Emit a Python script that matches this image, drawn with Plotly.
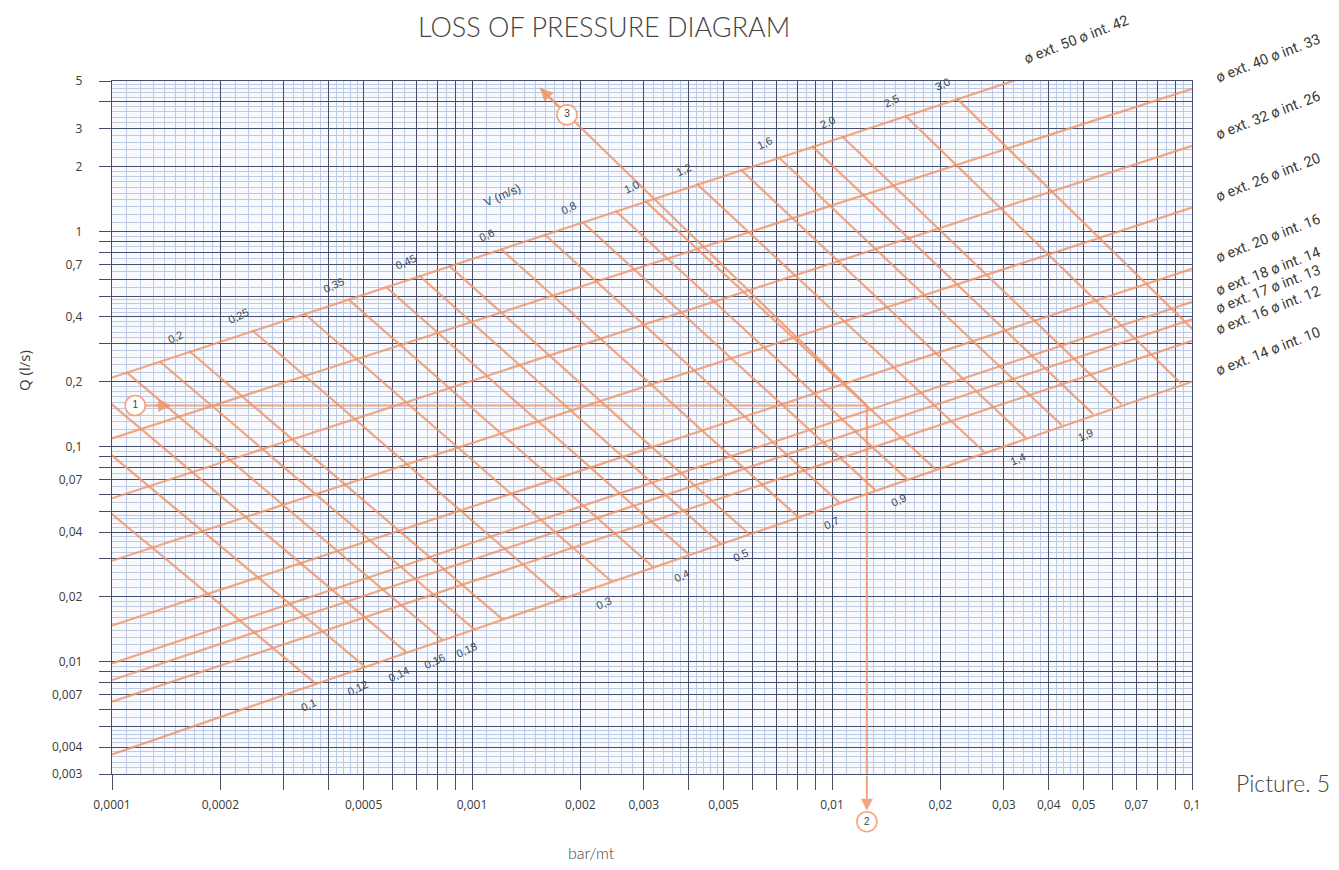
import numpy as np
import plotly.graph_objects as go

# ---------------- data ----------------
x_label_vals = [0.0001, 0.0002, 0.0005, 0.001, 0.002, 0.003, 0.005, 0.01, 0.02, 0.03, 0.04, 0.05, 0.07, 0.1]
x_label_text = ["0,0001", "0,0002", "0,0005", "0,001", "0,002", "0,003", "0,005", "0,01", "0,02",
                "0,03", "0,04", "0,05", "0,07", "0,1"]
y_label_vals = [0.003, 0.004, 0.007, 0.01, 0.02, 0.04, 0.07, 0.1, 0.2, 0.4, 0.7, 1, 2, 3, 5]
y_label_text = ["0,003", "0,004", "0,007", "0,01", "0,02", "0,04", "0,07", "0,1", "0,2", "0,4",
                "0,7", "1", "2", "3", "5"]

# pipe lines (Q vs pressure loss) : start at J=0.0001, end at J=0.1
pipe_names = ["ø ext. 50 ø int. 42", "ø ext. 40 ø int. 33", "ø ext. 32 ø int. 26",
              "ø ext. 26 ø int. 20", "ø ext. 20 ø int. 16", "ø ext. 18 ø int. 14",
              "ø ext. 17 ø int. 13", "ø ext. 16 ø int. 12", "ø ext. 14 ø int. 10"]
pipe_J_start = [0.0001, 0.0001, 0.0001, 0.0001, 0.0001, 0.0001, 0.0001, 0.0001, 0.0001]
pipe_Q_start = [0.209, 0.109, 0.0574, 0.0294, 0.0147, 0.0098, 0.0082, 0.0065, 0.0037]
pipe_J_end = [0.1, 0.1, 0.1, 0.1, 0.1, 0.1, 0.1, 0.1, 0.1]
pipe_Q_end = [9.4, 4.6, 2.5, 1.29, 0.67, 0.47, 0.39, 0.31, 0.20]

# velocity lines : from the ø42 line (top) to the ø10 line (bottom)
vel_text = ["0,1", "0,12", "0,14", "0,16", "0,18", "0,2", "0,25", "0,3", "0,35", "0,4", "0,45", "0,5",
            "0,6", "0,7", "0,8", "0,9", "1,0", "1,2", "1,4", "1,6", "1,9", "2,0", "2,5", "3,0"]
vel_J_top = [4.67e-5, 6.49e-5, 8.59e-5, 1.094e-4, 1.355e-4, 1.641e-4, 2.455e-4, 3.42e-4, 4.52e-4,
             5.75e-4, 7.13e-4, 8.63e-4, 1.20e-3, 1.589e-3, 2.023e-3, 2.503e-3, 3.027e-3, 4.217e-3,
             5.577e-3, 7.096e-3, 8.80e-3, 1.066e-2, 1.596e-2, 2.221e-2]
vel_Q_top = [0.14, 0.166, 0.194, 0.222, 0.249, 0.277, 0.346, 0.415, 0.485, 0.554, 0.623, 0.693,
             0.831, 0.97, 1.108, 1.247, 1.385, 1.662, 1.94, 2.216, 2.49, 2.77, 3.46, 4.15]
vel_J_bot = [3.694e-4, 5.06e-4, 6.59e-4, 8.29e-4, 1.014e-3, 1.216e-3, 1.782e-3, 2.443e-3, 3.184e-3,
             4.009e-3, 4.90e-3, 5.875e-3, 8.04e-3, 1.047e-2, 1.318e-2, 1.614e-2, 1.936e-2, 2.649e-2,
             3.451e-2, 4.345e-2, 5.316e-2, 6.368e-2, 9.33e-2, 0.128]
vel_Q_bot = [0.00785, 0.00942, 0.0110, 0.01256, 0.01413, 0.0157, 0.0196, 0.02355, 0.0275, 0.0314,
             0.0353, 0.03925, 0.0471, 0.05495, 0.0628, 0.07065, 0.0785, 0.0942, 0.1099, 0.1256,
             0.1413, 0.157, 0.196, 0.2355]
vel_label_end = ["bot", "bot", "bot", "bot", "bot", "top", "top", "bot", "top", "bot", "top", "bot",
                 "top", "bot", "top", "bot", "top", "top", "bot", "top", "bot", "top", "top", "top"]

# worked example (1 -> 2, 3)
ex_point_J = 0.0125
ex_point_Q = 0.155
ex_mark1 = (1.16e-4, 0.155)
ex_mark2 = (0.0125, 0.0018)
ex_mark3 = (1.836e-3, 3.48)
ex_tip3 = (1.545e-3, 4.64)

# ---------------- style ----------------
DARK = "#46506c"
LIGHT = "#bccae4"
ORANGE = "rgba(240,148,102,0.82)"
TXT = "#3a3a3a"
XMIN, XMAX = 1e-4, 0.1
YMIN, YMAX = 0.003, 5


def decade_lines(lo, hi):
    major, minor = [], []
    for e in range(int(np.floor(np.log10(lo))) - 1, int(np.ceil(np.log10(hi))) + 1):
        base = 10.0 ** e
        for k in range(1, 10):
            major.append(k * base)
        fine = [1 + 0.1 * i for i in range(1, 10)] + [2 + 0.2 * i for i in range(1, 15) if i % 5 != 0] \
            + [5.5, 6.5, 7.5, 8.5, 9.5]
        minor += [f * base for f in fine]
    tol = 1e-9
    major = [round(v, 12) for v in major if lo * (1 - tol) <= v <= hi * (1 + tol)]
    minor = [round(v, 12) for v in minor if lo * (1 - tol) <= v <= hi * (1 + tol)]
    return major, minor


def texts_for(major, lab_vals, lab_text):
    out = []
    for v in major:
        t = ""
        for lv, lt in zip(lab_vals, lab_text):
            if abs(np.log10(v) - np.log10(lv)) < 1e-6:
                t = lt
        out.append(t)
    return out


x_major, x_minor = decade_lines(XMIN, XMAX)
y_major, y_minor = decade_lines(YMIN, YMAX)
lx = np.log10


def paper_x(j):
    return (lx(j) - lx(XMIN)) / (lx(XMAX) - lx(XMIN))


def paper_y(q):
    return (lx(q) - lx(YMIN)) / (lx(YMAX) - lx(YMIN))


fig = go.Figure()

# pipe lines
px_, py_ = [], []
for a, b, c, d in zip(pipe_J_start, pipe_Q_start, pipe_J_end, pipe_Q_end):
    px_ += [a, c, None]
    py_ += [b, d, None]
fig.add_trace(go.Scatter(x=px_, y=py_, mode="lines", line=dict(color=ORANGE, width=2.2),
                         hoverinfo="skip"))

# velocity lines
vx, vy = [], []
for a, b, c, d in zip(vel_J_top, vel_Q_top, vel_J_bot, vel_Q_bot):
    vx += [a, c, None]
    vy += [b, d, None]
fig.add_trace(go.Scatter(x=vx, y=vy, mode="lines", line=dict(color=ORANGE, width=2.2),
                         hoverinfo="skip"))

# worked example lines
fig.add_trace(go.Scatter(
    x=[ex_mark1[0], ex_point_J, None, ex_point_J, ex_point_J, None, ex_point_J, ex_tip3[0]],
    y=[ex_mark1[1], ex_point_Q, None, ex_point_Q, YMIN * 0.9, None, ex_point_Q, ex_tip3[1]],
    mode="lines", line=dict(color=ORANGE, width=2.2), hoverinfo="skip"))

# circled markers 1 and 3 (inside the plot)
fig.add_trace(go.Scatter(
    x=[ex_mark1[0], ex_mark3[0]], y=[ex_mark1[1], ex_mark3[1]],
    mode="markers+text", text=["1", "3"], textposition="middle center",
    textfont=dict(size=10, color="#444", family="Liberation Sans"),
    marker=dict(size=20, color="white", line=dict(color=ORANGE, width=1.6)),
    cliponaxis=False, hoverinfo="skip"))

# circled marker 2 (below the plot) as a shape
m2x, m2y = paper_x(ex_mark2[0]), paper_y(ex_mark2[1])
fig.add_shape(type="circle", xref="paper", yref="paper", xsizemode="pixel", ysizemode="pixel",
              xanchor=m2x, yanchor=m2y, x0=-10, x1=10, y0=-10, y1=10,
              line=dict(color=ORANGE, width=1.6), fillcolor="white")

annotations = []
annotations.append(dict(x=m2x, y=m2y, xref="paper", yref="paper", text="2", showarrow=False,
                        xanchor="center", yanchor="middle",
                        font=dict(size=10, color="#444", family="Liberation Sans")))
# arrow heads / segments of the example
annotations.append(dict(x=lx(1.46e-4), y=lx(ex_mark1[1]), ax=lx(1.30e-4), ay=lx(ex_mark1[1]),
                        xref="x", yref="y", axref="x", ayref="y", text="", showarrow=True,
                        arrowhead=2, arrowsize=1.3, arrowwidth=2, arrowcolor=ORANGE))
annotations.append(dict(x=lx(ex_mark2[0]), y=lx(ex_mark2[1]), ax=lx(ex_point_J), ay=lx(YMIN),
                        xref="x", yref="y", axref="x", ayref="y", text="", showarrow=True,
                        arrowhead=2, arrowsize=1.2, arrowwidth=2, arrowcolor=ORANGE, standoff=11))
annotations.append(dict(x=lx(ex_tip3[0]), y=lx(ex_tip3[1]), ax=lx(1.75e-3), ay=lx(3.75),
                        xref="x", yref="y", axref="x", ayref="y", text="", showarrow=True,
                        arrowhead=2, arrowsize=1.3, arrowwidth=2, arrowcolor=ORANGE))

# pipe labels, placed just beyond each line's right end
for i, name in enumerate(pipe_names):
    j0, q0, j1, q1 = pipe_J_start[i], pipe_Q_start[i], pipe_J_end[i], pipe_Q_end[i]
    if q1 > YMAX:
        t = (lx(YMAX) - lx(q0)) / (lx(q1) - lx(q0))
        ex_, ey_ = lx(j0) + t * (lx(j1) - lx(j0)), lx(YMAX)
        xs, ys = 64, 42
    else:
        ex_, ey_ = lx(j1), lx(q1)
        xs, ys = 76, 30
    annotations.append(dict(x=ex_, y=ey_, xref="x", yref="y", text=name, showarrow=False,
                            xshift=xs, yshift=ys, textangle=-21,
                            font=dict(family="Roboto", size=14.5, color=TXT)))

# velocity labels
for i, t in enumerate(vel_text):
    if vel_label_end[i] == "top":
        x, y, xs, ys = lx(vel_J_top[i]), lx(vel_Q_top[i]), -14, 14
    else:
        x, y, xs, ys = lx(vel_J_bot[i]), lx(vel_Q_bot[i]), -8, -21
    annotations.append(dict(x=x, y=y, xref="x", yref="y", text=t, showarrow=False,
                            xshift=xs, yshift=ys, textangle=-25,
                            font=dict(family="Liberation Sans", size=11, color="#424856")))

annotations.append(dict(x=0.362, y=0.835, xref="paper", yref="paper", text="V (m/s)",
                        xanchor="center", yanchor="middle",
                        showarrow=False, textangle=-24,
                        font=dict(family="Liberation Sans", size=12, color="#424856")))

# titles
annotations.append(dict(x=0.4556, y=1.052, xref="paper", yref="paper", xanchor="center",
                        yanchor="bottom", text="LOSS OF PRESSURE DIAGRAM", showarrow=False,
                        font=dict(family="Lato", size=27, color="#444", weight=300)))
annotations.append(dict(x=-0.0815, y=0.583, xref="paper", yref="paper", text="Q (l/s)",
                        xanchor="center", yanchor="middle",
                        textangle=-90, showarrow=False,
                        font=dict(family="Open Sans", size=15, color=TXT)))
annotations.append(dict(x=0.444, y=-0.113, xref="paper", yref="paper", text="bar/mt",
                        xanchor="center", yanchor="middle",
                        showarrow=False, font=dict(family="Lato", size=16, color="#444", weight=300)))
annotations.append(dict(x=1.084, y=-0.013, xref="paper", yref="paper", text="Picture. 5",
                        xanchor="center", yanchor="middle",
                        showarrow=False, font=dict(family="Lato", size=23, color="#444", weight=300)))

axis_common = dict(type="log", tickmode="array", showgrid=True, gridcolor=DARK, gridwidth=1.3,
                   ticks="outside", tickwidth=1.3, tickcolor=DARK, showline=True,
                   linecolor=DARK, linewidth=1.3, mirror=True, zeroline=False,
                   tickfont=dict(family="Open Sans", size=12, color=TXT))

fig.update_xaxes(range=[lx(XMIN), lx(XMAX)], tickvals=x_major,
                 ticktext=texts_for(x_major, x_label_vals, x_label_text), ticklen=15,
                 ticklabelstandoff=4,
                 minor=dict(tickmode="array", tickvals=x_minor, showgrid=True, gridcolor=LIGHT,
                            gridwidth=1, ticks=""),
                 **axis_common)
fig.update_yaxes(range=[lx(YMIN), lx(YMAX)], tickvals=y_major,
                 ticktext=texts_for(y_major, y_label_vals, y_label_text), ticklen=12,
                 ticklabelstandoff=14,
                 minor=dict(tickmode="array", tickvals=y_minor, showgrid=True, gridcolor=LIGHT,
                            gridwidth=1, ticks=""),
                 **axis_common)

# the page body adds an 8px offset; size and margins compensate so the plot area
# lands at x 112..1192, y 81..774 of the window
fig.update_layout(width=1331, height=862, margin=dict(l=104, r=147, t=73, b=96),
                  paper_bgcolor="white", plot_bgcolor="#f7f9fd", showlegend=False,
                  hovermode=False, annotations=annotations)

fig.write_html("out.html")
